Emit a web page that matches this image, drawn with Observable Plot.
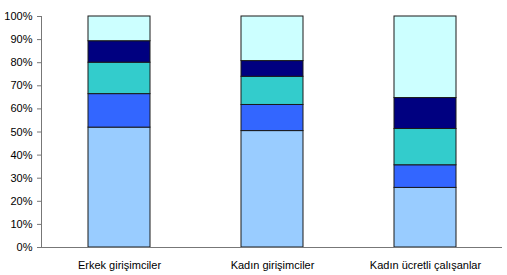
<!DOCTYPE html>
<html>
<head>
<meta charset="utf-8">
<script src="https://cdn.jsdelivr.net/npm/d3@7"></script>
<script src="https://cdn.jsdelivr.net/npm/@observablehq/plot@0.6"></script>
<style>
  html, body { margin: 0; padding: 0; background: #fff; }
  #chart { width: 507px; height: 275px; }
</style>
</head>
<body>
<div id="chart"></div>
<script>
const categories = ["Erkek girişimciler", "Kadın girişimciler", "Kadın ücretli çalışanlar"];
const seriesNames = ["Seri 1", "Seri 2", "Seri 3", "Seri 4", "Seri 5"];
const seriesColors = ["#99CCFF", "#3366FF", "#33CCCC", "#000080", "#CCFFFF"];
const s1 = [51.9, 50.4, 25.8];
const s2 = [14.5, 11.3, 9.8];
const s3 = [13.6, 12.2, 15.7];
const s4 = [9.3, 6.8, 13.4];
const s5 = [10.7, 19.3, 35.3];
const yTicks = [0, 10, 20, 30, 40, 50, 60, 70, 80, 90, 100];

const seriesValues = [s1, s2, s3, s4, s5];
const data = [];
seriesNames.forEach((s, si) => {
  categories.forEach((c, ci) => {
    data.push({category: c, series: s, value: seriesValues[si][ci], order: si});
  });
});

const chart = Plot.plot({
  width: 507,
  height: 275,
  marginLeft: 41,
  marginRight: 5,
  marginTop: 16,
  marginBottom: 28,
  style: {fontFamily: "'Liberation Sans', Arial, sans-serif", fontSize: "11px", color: "#000", background: "#fff"},
  x: {domain: categories, paddingInner: 0.597, paddingOuter: 0.3, label: null},
  y: {domain: [0, 100], label: null},
  color: {domain: seriesNames, range: seriesColors},
  marks: [
    Plot.barY(data, Plot.stackY({
      x: "category", y: "value", fill: "series", order: "order",
      stroke: "#1a1a1a", strokeWidth: 1
    })),
    Plot.ruleY([0], {stroke: "#777", strokeWidth: 1}),
    Plot.frame({anchor: "left", stroke: "#777"}),
    Plot.axisY({ticks: yTicks, tickFormat: d => d + "%", tickSize: 4, tickPadding: 5, stroke: "#777", fill: "#000", fontSize: 11, label: null}),
    Plot.axisX({tickSize: 0, tickPadding: 14, fill: "#000", fontSize: 11, label: null})
  ]
});
document.getElementById("chart").appendChild(chart);
</script>
</body>
</html>
